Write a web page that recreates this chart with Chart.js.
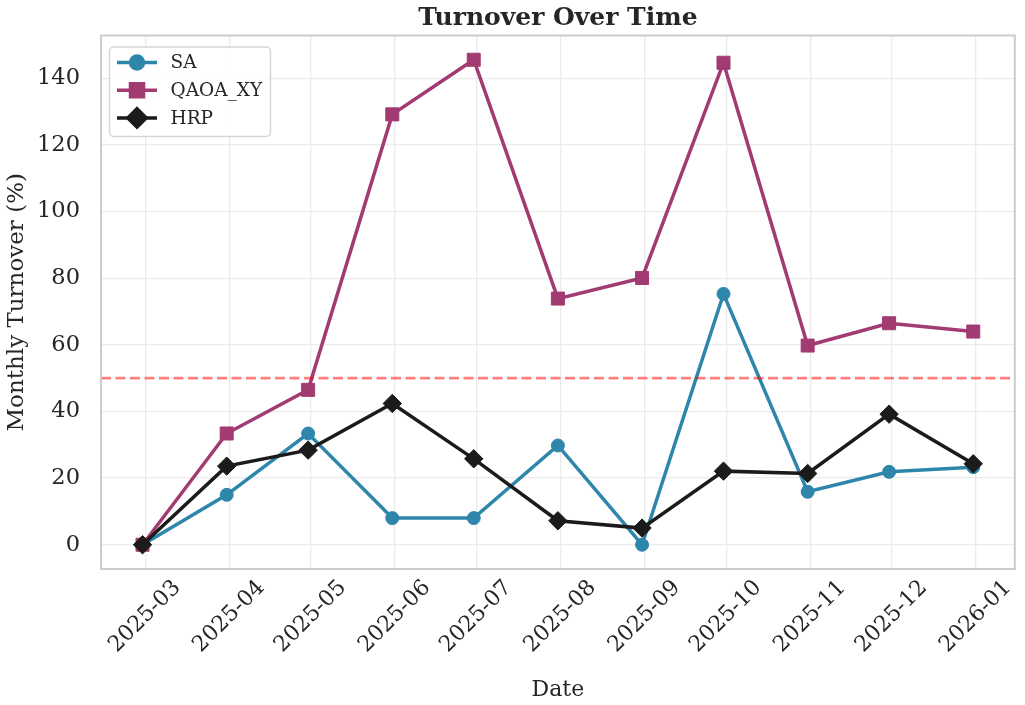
<!DOCTYPE html>
<html><head><meta charset="utf-8">
<script src="https://cdn.jsdelivr.net/npm/chart.js@4.4.1/dist/chart.umd.min.js"></script>
<style>html,body{margin:0;padding:0;background:#fff}#wrap{width:1025px;height:705px;position:relative}</style>
</head><body><div id="wrap"><canvas id="c"></canvas></div>
<script>
// ---- data ----
const dates = ['2025-02-28','2025-03-31','2025-04-30','2025-05-31','2025-06-30','2025-07-31','2025-08-31','2025-09-30','2025-10-31','2025-11-30','2025-12-31'];
const saValues   = [0, 15.0, 33.4, 8.0, 8.0, 29.8, 0.0, 75.3, 15.9, 21.9, 23.3];
const qaoaValues = [0, 33.4, 46.5, 129.2, 145.6, 73.9, 80.1, 144.7, 59.8, 66.5, 64.0];
const hrpValues  = [0, 23.6, 28.4, 42.4, 25.8, 7.2, 5.0, 22.1, 21.4, 39.2, 24.3];
const xTickLabels = ['2025-03','2025-04','2025-05','2025-06','2025-07','2025-08','2025-09','2025-10','2025-11','2025-12','2026-01'];
const yTickValues = [0, 20, 40, 60, 80, 100, 120, 140];
const thresholdValue = 50;
const chartTitle = 'Turnover Over Time';

const FONT = "'DejaVu Serif', serif";
const TEXT = '#262626';
const dayNum = s => Date.UTC(+s.slice(0,4), +s.slice(5,7) - 1, +s.slice(8,10)) / 86400000;
const xs = dates.map(dayNum);
const xSpan = xs[xs.length - 1] - xs[0];
const xMin = xs[0] - 0.05 * xSpan, xMax = xs[xs.length - 1] + 0.05 * xSpan;
const allY = saValues.concat(qaoaValues, hrpValues);
const yLo = Math.min(...allY), yHi = Math.max(...allY);
const yMin = yLo - 0.05 * (yHi - yLo), yMax = yHi + 0.05 * (yHi - yLo);
const pts = vals => vals.map((v, i) => ({x: xs[i], y: v}));

const framePlugin = {
  id: 'frame',
  afterDatasetsDraw(chart) {
    const {ctx, chartArea: a} = chart;
    ctx.save();
    ctx.strokeStyle = '#cccccc';
    ctx.lineWidth = 2;
    ctx.strokeRect(a.left, a.top, a.right - a.left, a.bottom - a.top);
    ctx.restore();
  },
  afterDraw(chart) {
    const {ctx, chartArea: a} = chart;
    ctx.save();
    // title centred over the plot area
    ctx.fillStyle = TEXT;
    ctx.font = "bold 25px " + FONT;
    ctx.textAlign = 'center';
    ctx.textBaseline = 'middle';
    ctx.fillText(chartTitle, (a.left + a.right) / 2, a.top - 17);
    // legend
    const items = chart.data.datasets.filter(d => d.label);
    const bx = a.left + 8.5, by = a.top + 11.5, bw = 161, bh = 89.5, r = 4;
    ctx.beginPath();
    ctx.moveTo(bx + r, by);
    ctx.arcTo(bx + bw, by, bx + bw, by + bh, r);
    ctx.arcTo(bx + bw, by + bh, bx, by + bh, r);
    ctx.arcTo(bx, by + bh, bx, by, r);
    ctx.arcTo(bx, by, bx + bw, by, r);
    ctx.closePath();
    ctx.fillStyle = 'rgba(255,255,255,0.85)';
    ctx.fill();
    ctx.strokeStyle = '#d6d6d6';
    ctx.lineWidth = 1.5;
    ctx.stroke();
    items.forEach((ds, i) => {
      const y = by + 15.5 + i * 27.7;
      const lx = bx + 7.5;
      ctx.strokeStyle = ds.borderColor;
      ctx.lineWidth = ds.borderWidth;
      ctx.beginPath(); ctx.moveTo(lx, y); ctx.lineTo(lx + 40, y); ctx.stroke();
      ctx.fillStyle = ds.pointBackgroundColor;
      ctx.strokeStyle = ds.pointBorderColor;
      Chart.helpers.drawPoint(ctx, {pointStyle: ds.pointStyle, radius: ds.pointRadius, borderWidth: ds.pointBorderWidth, rotation: 0}, lx + 20, y);
      ctx.fillStyle = TEXT;
      ctx.font = "18.5px " + FONT;
      ctx.textBaseline = 'middle';
      ctx.textAlign = 'left';
      ctx.fillText(ds.label, bx + 61, y + 1);
    });
    ctx.restore();
  }
};

function series(label, vals, color, style, radius, order) {
  return {
    label, data: pts(vals), borderColor: color, backgroundColor: color,
    pointBackgroundColor: color, pointBorderColor: color, pointBorderWidth: 1,
    pointStyle: style, pointRadius: radius, pointHoverRadius: radius,
    borderWidth: 3.5, tension: 0, order
  };
}

new Chart(document.getElementById('c'), {
  type: 'line',
  data: {
    datasets: [
      series('SA', saValues, '#2E86AB', 'circle', 6.5, 3),
      series('QAOA_XY', qaoaValues, '#A23B72', 'rect', 9.2, 2),
      series('HRP', hrpValues, '#1b1b1b', 'rectRot', 9.2, 1),
      {
        label: '', data: [{x: xMin, y: thresholdValue}, {x: xMax, y: thresholdValue}],
        borderColor: 'rgba(255,0,0,0.5)', borderWidth: 2.8, borderDash: [10, 4.5],
        pointRadius: 0, pointHoverRadius: 0, order: 0
      }
    ]
  },
  options: {
    responsive: true, maintainAspectRatio: false, animation: false,
    devicePixelRatio: 1,
    layout: {padding: {left: 0, right: 6, top: 35.5, bottom: 0}},
    plugins: {
      legend: {display: false},
      tooltip: {enabled: false},
      title: {display: false}
    },
    scales: {
      x: {
        type: 'linear', min: xMin, max: xMax,
        afterBuildTicks: s => { s.ticks = xTickLabels.map(l => ({value: dayNum(l + '-01')})); },
        afterFit: s => { s.height = 136; },
        grid: {color: '#ebebeb', lineWidth: 1.3, drawTicks: false},
        border: {display: false},
        ticks: {autoSkip: false, maxRotation: 45, minRotation: 45, padding: 6, labelOffset: 32,
          color: TEXT, font: {family: FONT, size: 22}, callback: (v, i) => xTickLabels[i]},
        title: {display: true, text: 'Date', color: TEXT, font: {family: FONT, size: 22}, padding: {top: 0, bottom: 2}}
      },
      y: {
        type: 'linear', min: yMin, max: yMax,
        afterBuildTicks: s => { s.ticks = yTickValues.map(v => ({value: v})); },
        afterFit: s => { s.width = 101; },
        grid: {color: '#ebebeb', lineWidth: 1.3, drawTicks: false},
        border: {display: false},
        ticks: {padding: 21, color: TEXT, font: {family: FONT, size: 22.5}, callback: v => String(v)},
        title: {display: true, text: 'Monthly Turnover (%)', color: TEXT, font: {family: FONT, size: 23}, padding: {top: 3, bottom: 0}}
      }
    }
  },
  plugins: [framePlugin]
});
</script>
</body></html>
